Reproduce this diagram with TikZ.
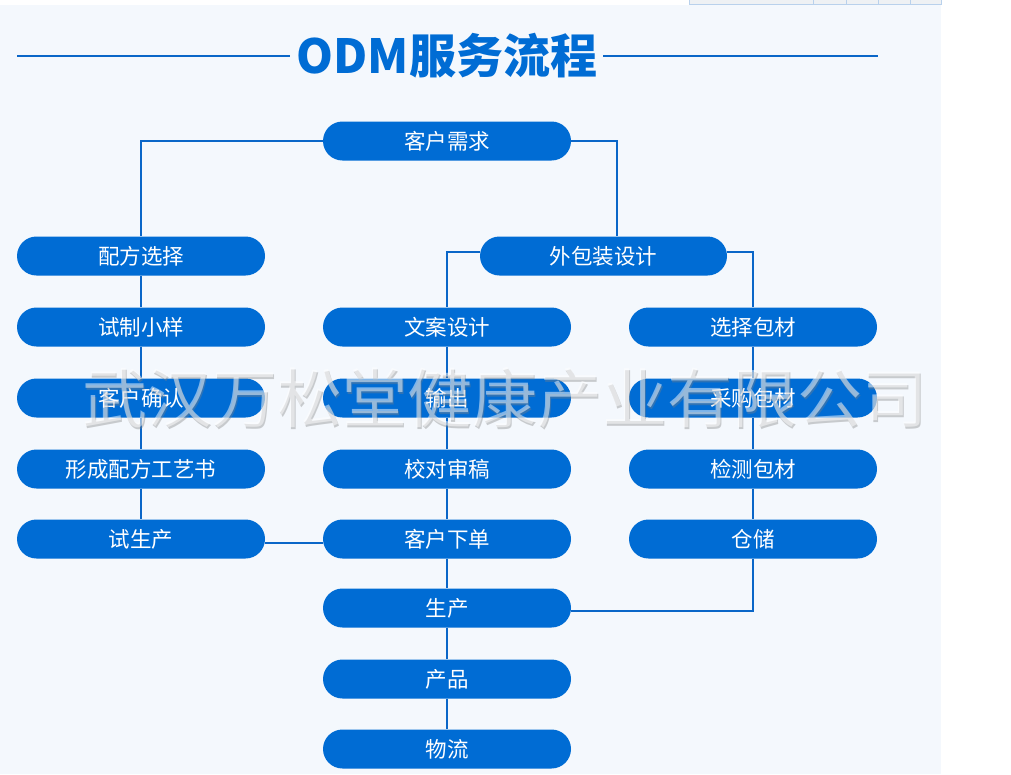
\documentclass[tikz,border=0pt]{standalone}
\usepackage{fontspec}
\newfontfamily\cjk{Noto Sans CJK SC}
\definecolor{pillblue}{HTML}{006CD4}
\definecolor{lineblue}{HTML}{0A66C8}
\definecolor{bgblue}{HTML}{F4F8FD}
\definecolor{tabfill}{HTML}{EEF1F4}
\definecolor{tabline}{HTML}{B9D1EC}
\tikzset{
  pill/.style={fill=pillblue, text=white, rounded corners=19.5pt, minimum width=248pt,
    minimum height=39pt, inner sep=0pt, font=\cjk\fontsize{21.5}{21.5}\selectfont},
  conn/.style={draw=lineblue, line width=2pt}
}
\begin{document}
\begin{tikzpicture}[x=1pt,y=-1pt]
\useasboundingbox (0,0) rectangle (1011,774);
\fill[white] (0,0) rectangle (1011,774);
\fill[bgblue] (0,5) rectangle (941,774);
% top tab
\filldraw[fill=tabfill, draw=tabline, line width=0.8pt] (689,-1) rectangle (941,4.3);
\foreach \xx in {813,846,878,910} \draw[tabline, line width=0.8pt] (\xx,-1) -- (\xx,4.3);
% title
\node[text=pillblue, font=\cjk\bfseries\fontsize{47}{47}\selectfont, inner sep=0pt] (title) at (447,56) {ODM服务流程};
\coordinate (tl) at (17,56);
\coordinate (tr) at (878,56);
\draw[lineblue, line width=2.4pt] (tl) -- ([xshift=-7pt]title.west);
\draw[lineblue, line width=2.4pt] ([xshift=6pt]title.east) -- (tr);
% nodes
\node[pill] (req) at (447,141) {客户需求};
\node[pill] (pf) at (141,256) {配方选择};
\node[pill, minimum width=247pt] (wb) at (603.5,256) {外包装设计};
\node[pill] (sz) at (141,327) {试制小样};
\node[pill] (qr) at (141,398) {客户确认};
\node[pill] (gy) at (141,469) {形成配方工艺书};
\node[pill] (sy) at (141,539) {试生产};
\node[pill] (wa) at (447,327) {文案设计};
\node[pill] (sc) at (447,398) {输出};
\node[pill] (jd) at (447,469) {校对审稿};
\node[pill] (xd) at (447,539) {客户下单};
\node[pill] (sp) at (447,608) {生产};
\node[pill] (cp) at (447,679) {产品};
\node[pill] (wl) at (447,749) {物流};
\node[pill] (xz) at (753,327) {选择包材};
\node[pill] (cg) at (753,398) {采购包材};
\node[pill] (jc) at (753,469) {检测包材};
\node[pill] (cc) at (753,539) {仓储};
% connectors
\draw[conn] (req.west) -| (pf.north);
\draw[conn] (req.east) -| ([xshift=13.5pt]wb.north);
\draw[conn] ([yshift=4pt]wb.west) -| (wa.north);
\draw[conn] ([yshift=4pt]wb.east) -| (xz.north);
\draw[conn] (pf.south) -- (sz.north);
\draw[conn] (sz.south) -- (qr.north);
\draw[conn] (qr.south) -- (gy.north);
\draw[conn] (gy.south) -- (sy.north);
\draw[conn] (wa.south) -- (sc.north);
\draw[conn] (sc.south) -- (jd.north);
\draw[conn] (jd.south) -- (xd.north);
\draw[conn] (xd.south) -- (sp.north);
\draw[conn] (sp.south) -- (cp.north);
\draw[conn] (cp.south) -- (wl.north);
\draw[conn] (xz.south) -- (cg.north);
\draw[conn] (cg.south) -- (jc.north);
\draw[conn] (jc.south) -- (cc.north);
\draw[conn] ([yshift=-4pt]sy.east) -- ([yshift=-4pt]xd.west);
\draw[conn] (cc.south) |- ([yshift=-3pt]sp.east);
% watermark
\node[text=black!50, opacity=0.38, font=\cjk\fontsize{65}{65}\selectfont, inner sep=0pt] (wm0) at (506,399.5) {武汉万松堂健康产业有限公司};
\node[text=white, opacity=0.5, font=\cjk\fontsize{65}{65}\selectfont, inner sep=0pt] (wm) at (505,398) {武汉万松堂健康产业有限公司};
\end{tikzpicture}
\end{document}
